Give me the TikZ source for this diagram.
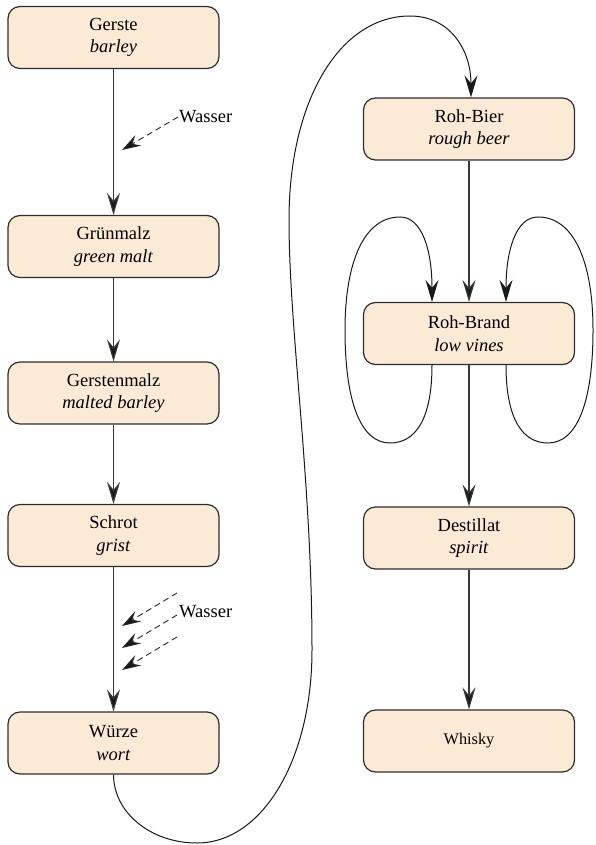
\documentclass[tikz,border=0pt]{standalone}
\usepackage{fontspec}
\setmainfont{Liberation Serif}
\usetikzlibrary{arrows.meta}
\definecolor{boxfill}{RGB}{250,234,214}
\definecolor{boxdraw}{RGB}{45,45,45}
\definecolor{linecol}{RGB}{55,55,55}
\begin{document}
\begin{tikzpicture}[x=1pt,y=-1pt,
  stage/.style={draw=boxdraw, line width=1.2pt, fill=boxfill, rounded corners=12pt,
    minimum width=211pt, minimum height=62pt, inner sep=0pt, align=center,
    font=\fontsize{18.5}{22.5}\selectfont},
  flow/.style={draw=linecol, line width=1.2pt, -{Stealth[length=22pt,width=13pt,inset=8pt,fill=black!90]}},
  water/.style={draw=black!85, line width=0.9pt, dash pattern=on 6pt off 4pt,
    -{Stealth[length=19pt,width=12pt,inset=7pt,fill=black!90]}},
  cycle/.style={draw=black!90, line width=1pt, -{Stealth[length=22pt,width=13pt,inset=8pt,fill=black!90]}},
  label/.style={font=\fontsize{18.5}{22}\selectfont, inner sep=1pt}
]
\useasboundingbox (0,0) rectangle (595,845);

% left column
\node[stage] (gerste) at (113.5,37.5) {Gerste\\\textit{barley}};
\node[stage] (gruen) at (113.5,246.5) {Grünmalz\\\textit{green malt}};
\node[stage] (gmalz) at (113.5,393) {Gerstenmalz\\\textit{malted barley}};
\node[stage] (schrot) at (113.5,535.5) {Schrot\\\textit{grist}};
\node[stage] (wuerze) at (113.5,743) {Würze\\\textit{wort}};

% right column
\node[stage] (rohbier) at (469,129) {Roh-Bier\\\textit{rough beer}};
\node[stage] (rohbrand) at (469,333.5) {Roh-Brand\\\textit{low vines}};
\node[stage] (destillat) at (469,538) {Destillat\\\textit{spirit}};
\node[stage, font=\fontsize{16.3}{20}\selectfont] (whisky) at (469,741) {Whisky};

% main flow
\draw[flow] (gerste) -- (gruen);
\draw[flow] (gruen) -- (gmalz);
\draw[flow] (gmalz) -- (schrot);
\draw[flow] (schrot) -- (wuerze);
\draw[flow] (rohbier) -- (rohbrand);
\draw[flow] (rohbrand) -- (destillat);
\draw[flow] (destillat) -- (whisky);

% water inputs
\node[label, anchor=west] (w1) at (178,117) {Wasser};
\coordinate (t1) at (122,150);
\draw[water] (w1.west) -- (t1);

\node[label, anchor=west] (w2) at (178,612) {Wasser};
\coordinate (s2a) at (177,593);
\coordinate (s2b) at (177,615);
\coordinate (s2c) at (177,637);
\coordinate (t2a) at (122,626);
\coordinate (t2b) at (122,648);
\coordinate (t2c) at (122,670);
\draw[water] (s2a) -- (t2a);
\draw[water] (s2b) -- (t2b);
\draw[water] (s2c) -- (t2c);

% long transfer curve
\draw[cycle] (wuerze.south) .. controls (113.5,812) and (150,843) .. (197,843)
  .. controls (262,843) and (312,760) .. (312,650)
  .. controls (312,480) and (289,330) .. (289,220)
  .. controls (289,100) and (340,16) .. (410,16)
  .. controls (450,16) and (471,50) .. ([xshift=2pt]rohbier.north);

% distillation loops
\draw[cycle] ([xshift=-37pt]rohbrand.south) .. controls (432,420) and (415,443) .. (390,443)
  .. controls (360,443) and (345,400) .. (345,330)
  .. controls (345,260) and (365,217) .. (400,217)
  .. controls (422,217) and (432,250) .. ([xshift=-37pt]rohbrand.north);
\draw[cycle] ([xshift=37pt]rohbrand.south) .. controls (506,420) and (523,443) .. (548,443)
  .. controls (578,443) and (593,400) .. (593,330)
  .. controls (593,260) and (573,217) .. (538,217)
  .. controls (516,217) and (506,250) .. ([xshift=37pt]rohbrand.north);
\end{tikzpicture}
\end{document}
